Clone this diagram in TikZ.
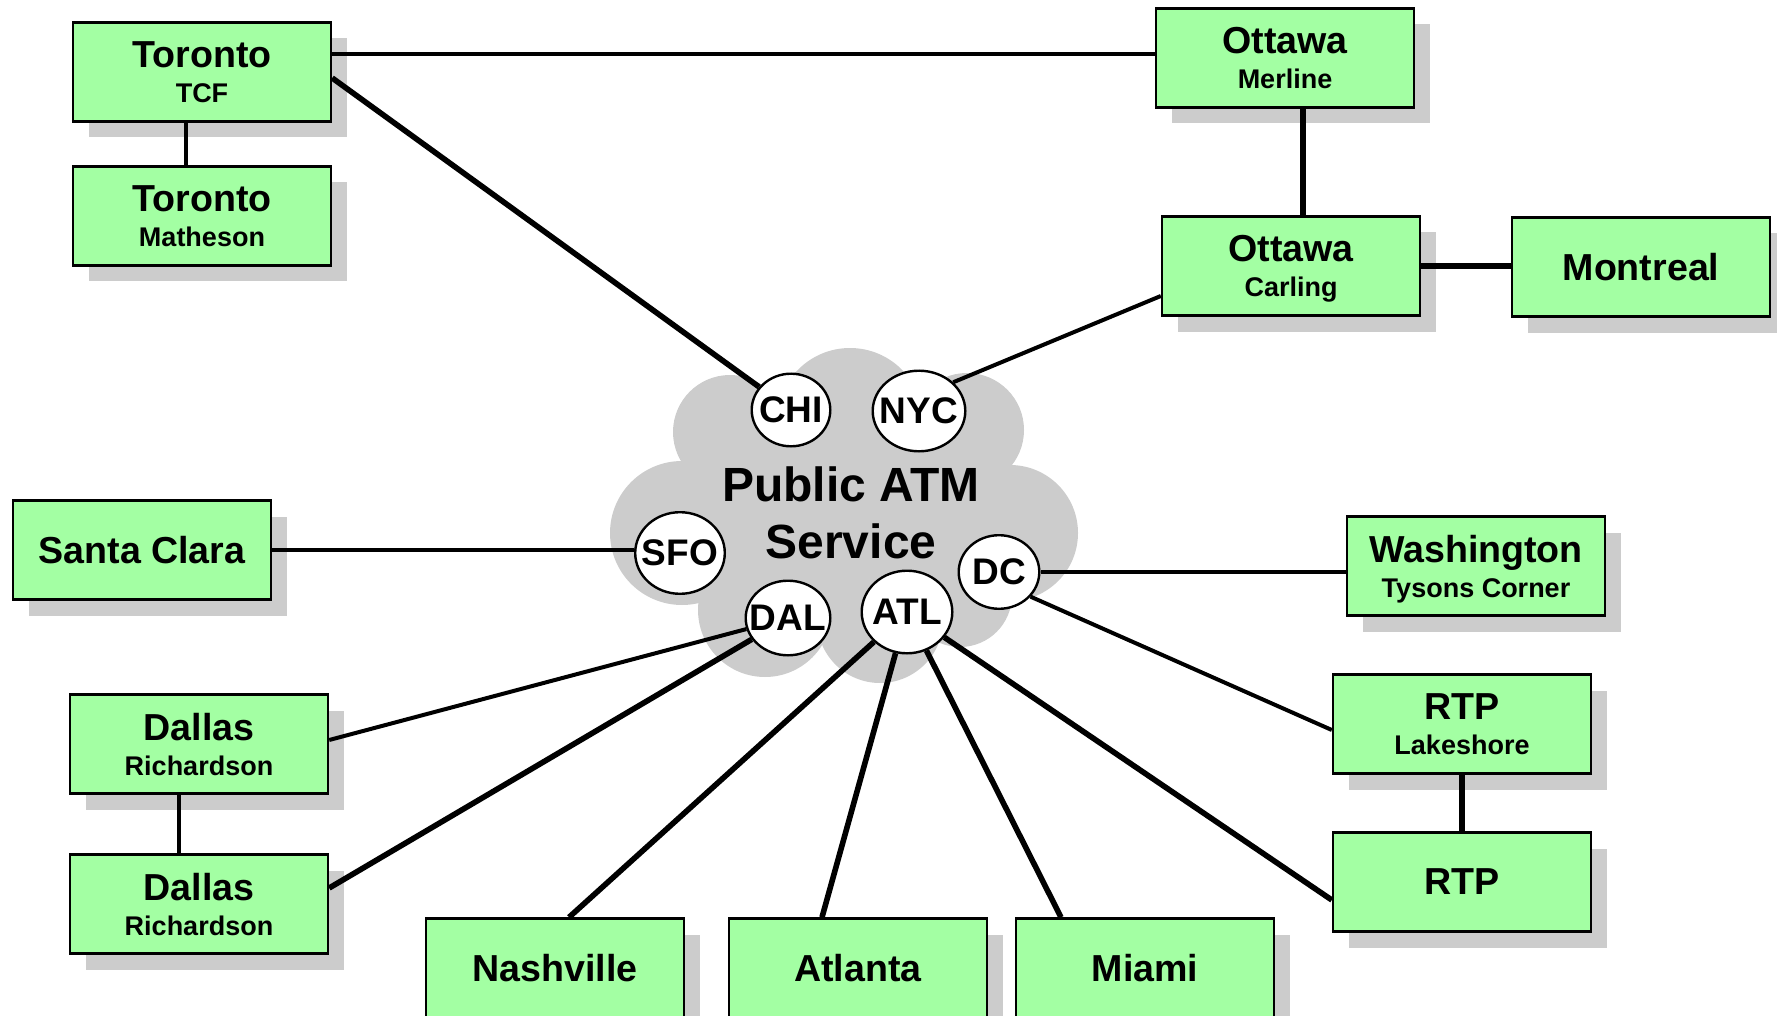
\documentclass[tikz,border=0pt]{standalone}
\usepackage{fontspec}
\setmainfont{Liberation Sans}
\usepackage{tikz}
\usetikzlibrary{shapes.geometric, shadows, calc}

\definecolor{sitegreen}{RGB}{163,255,163}
\definecolor{cloudgray}{RGB}{204,204,204}
\newcommand{\sitesub}{\fontsize{13.5}{17.5}\selectfont}

\begin{document}
\begin{tikzpicture}[
  x=0.5pt, y=-0.5pt,
  site/.style={rectangle, draw, line width=1.2pt, fill=sitegreen, align=center, minimum width=129pt, minimum height=49.5pt, inner sep=0pt, text depth=0pt, font=\fontsize{18.8}{17.5}\selectfont\bfseries, drop shadow={shadow xshift=8pt, shadow yshift=-8pt, fill=cloudgray, opacity=1}},
  hub/.style={ellipse, draw, line width=1.2pt, fill=white, inner sep=0pt, label={[font=\fontsize{18.5}{20}\selectfont\bfseries]center:#1}},
  link/.style={line width=2pt},
  trunk/.style={line width=2.8pt},
  tie/.style={line width=1.6pt}
]
\useasboundingbox (0,0) rectangle (1777,1016);

% the ATM cloud
\fill[cloudgray] (850,421) circle[radius=73] (730,432) circle[radius=57] (967,430) circle[radius=57]
  (682,533) circle[radius=72] (1010,533) circle[radius=68] (765,610) circle[radius=67]
  (880,620) circle[radius=63] (960,595) circle[radius=52] (850,520) ellipse[x radius=160, y radius=110];
\node[font=\fontsize{24}{28.75}\selectfont\bfseries, align=center] (atm) at (851,513) {Public ATM\\Service};

\node[hub=CHI, minimum width=39.3pt, minimum height=36.3pt] (chi) at (791,410) {};
\node[hub=NYC, minimum width=46.3pt, minimum height=40.3pt] (nyc) at (919,411) {};
\node[hub=SFO, minimum width=44.8pt, minimum height=40.8pt] (sfo) at (680,553) {};
\node[hub=DAL, minimum width=42.3pt, minimum height=37.3pt] (dal) at (788,618) {};
\node[hub=ATL, minimum width=45.3pt, minimum height=41.3pt] (atl) at (907,612) {};
\node[hub=DC, minimum width=40.3pt, minimum height=36.8pt] (dc) at (999,572) {};

% sites
\node[site] (tcf) at (202,72) {Toronto\\{\sitesub TCF}};
\node[site] (matheson) at (202,216) {Toronto\\{\sitesub Matheson}};
\node[site] (merline) at (1285,58) {Ottawa\\{\sitesub Merline}};
\node[site] (carling) at (1291,266) {Ottawa\\{\sitesub Carling}};
\node[site] (montreal) at (1641,267) {Montreal};
\node[site] (santaclara) at (142,550) {Santa Clara};
\node[site] (tysons) at (1476,566) {Washington\\{\sitesub Tysons Corner}};
\node[site] (lakeshore) at (1462,724) {RTP\\{\sitesub Lakeshore}};
\node[site] (rtp) at (1462,882) {RTP};
\node[site] (richardsonA) at (199,744) {Dallas\\{\sitesub Richardson}};
\node[site] (richardsonB) at (199,904) {Dallas\\{\sitesub Richardson}};
\node[site] (nashville) at (555,968) {Nashville};
\node[site] (atlanta) at (858,968) {Atlanta};
\node[site] (miami) at (1145,968) {Miami};

% links
\draw[link] ([yshift=2pt]merline.west) -- ([yshift=2pt]merline.west -| tcf.east);
\draw[trunk] ([yshift=-3pt]tcf.east) -- (chi);
\draw[tie] ([xshift=-8pt]tcf.south) -- ([xshift=-8pt]matheson.north);
\draw[trunk] ([xshift=9pt]merline.south) -- ([xshift=9pt]merline.south |- carling.north);
\draw[trunk] (carling.east) -- (carling.east -| montreal.west);
\draw[link] ([yshift=-15pt]carling.west) -- (nyc.40);
\draw[link] (santaclara.east) -- (santaclara.east -| sfo.west);
\draw[link] (dc) -- (dc -| tysons.west);
\draw[link] (dc.-38) -- ([yshift=-3pt]lakeshore.west);
\draw[trunk] (lakeshore) -- (rtp);
\draw[trunk] (atl) -- ([yshift=-9pt]rtp.west);
\draw[trunk] (atl) -- ([xshift=-42pt]miami.north);
\draw[trunk] (atl) -- ([xshift=-18pt]atlanta.north);
\draw[trunk] (atl) -- ([xshift=7pt]nashville.north);
\draw[link] (dal) -- ([yshift=2pt]richardsonA.east);
\draw[trunk] (dal) -- ([yshift=8pt]richardsonB.east);
\draw[tie] ([xshift=-10pt]richardsonA.south) -- ([xshift=-10pt]richardsonB.north);
\end{tikzpicture}
\end{document}
